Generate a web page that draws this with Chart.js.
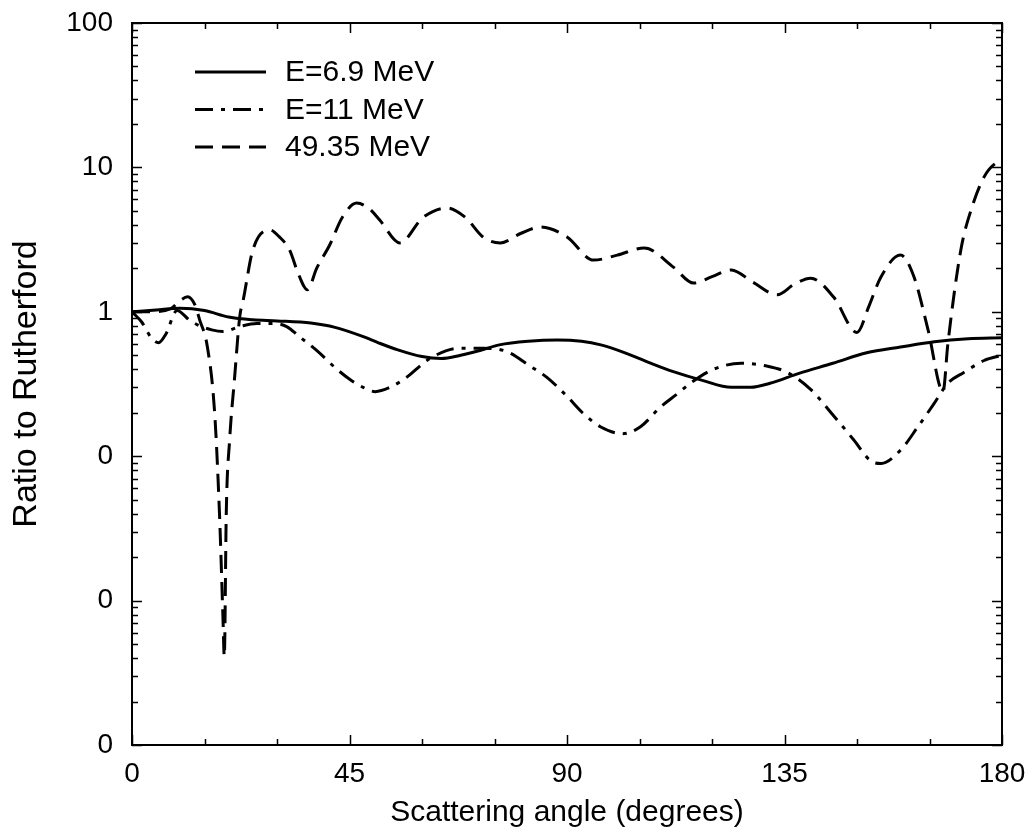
<!DOCTYPE html>
<html>
<head>
<meta charset="utf-8">
<script src="https://cdn.jsdelivr.net/npm/chart.js@4"></script>
<style>
  html, body { margin: 0; padding: 0; background: #fff; }
  canvas { display: block; }
</style>
</head>
<body>
<canvas id="rutherfordChart" width="1030" height="831"></canvas>
<script>
// Ratio to Rutherford vs scattering angle
const angles69 = [0, 5, 10, 15, 20, 25, 30, 37, 42, 48, 51, 55, 60, 64, 68, 72, 76, 82, 88, 93, 97, 102, 107, 112, 118, 124, 128, 132, 138, 145, 152, 159, 166, 173, 180];
const ratio69 = [1.0, 1.03, 1.06, 1.02, 0.92, 0.88, 0.865, 0.835, 0.78, 0.67, 0.61, 0.545, 0.49, 0.475, 0.50, 0.54, 0.59, 0.625, 0.638, 0.625, 0.59, 0.52, 0.445, 0.385, 0.335, 0.30, 0.30, 0.32, 0.375, 0.44, 0.52, 0.57, 0.62, 0.65, 0.66];

const angles11 = [0, 2, 4, 5.5, 7, 9.3, 12, 14, 16.5, 18.8, 22.3, 25.8, 29.1, 32, 34.7, 38.2, 42.4, 45.1, 47.8, 50.3, 53.4, 57.2, 59.9, 62.3, 67.9, 72.6, 77.6, 82.4, 85.9, 90, 93.2, 96.9, 101.5, 105.2, 109.4, 112.8, 115.5, 120.3, 126, 131.5, 135.6, 140.4, 145.2, 149.3, 152.8, 155, 159, 162.6, 165.9, 168.8, 172.1, 176.3, 180];
const ratio11 = [1.0, 0.85, 0.66, 0.61, 0.7, 1.02, 0.87, 0.80, 0.75, 0.73, 0.79, 0.83, 0.83, 0.79, 0.67, 0.54, 0.40, 0.34, 0.30, 0.28, 0.30, 0.36, 0.43, 0.49, 0.56, 0.56, 0.53, 0.42, 0.35, 0.26, 0.20, 0.16, 0.143, 0.16, 0.22, 0.27, 0.32, 0.40, 0.44, 0.42, 0.38, 0.29, 0.19, 0.13, 0.093, 0.089, 0.11, 0.16, 0.23, 0.32, 0.38, 0.46, 0.50];

const angles49 = [0, 4, 8, 10, 11.5, 13, 14, 15.6, 17.1, 18.1, 18.8, 19.1, 19.5, 20.2, 21.2, 22.3, 23, 25, 28.5, 30.5, 32.6, 34.5, 36.3, 38.2, 40.9, 43.5, 46.5, 49, 51.3, 55.4, 60.2, 65.2, 69, 72.6, 76.2, 80.5, 84.5, 90, 95.5, 100.4, 106, 112, 116.2, 120, 124, 128.5, 133.5, 137, 140.4, 145.2, 150, 152.5, 154.9, 159, 161.8, 164.7, 167.8, 168.8, 171.5, 173.6, 176.3, 179.2, 180];
const ratio49 = [1.0, 1.0, 1.05, 1.2, 1.27, 1.12, 0.88, 0.57, 0.2, 0.04, 0.008, 0.0041, 0.04, 0.13, 0.34, 0.93, 1.2, 2.68, 3.68, 3.3, 2.68, 1.8, 1.42, 2.0, 2.9, 4.5, 5.66, 5.2, 4.3, 3.0, 4.5, 5.24, 4.5, 3.3, 3.0, 3.5, 3.86, 3.3, 2.28, 2.47, 2.77, 2.04, 1.58, 1.75, 1.95, 1.6, 1.31, 1.55, 1.71, 1.26, 0.72, 1.1, 1.73, 2.47, 1.74, 0.75, 0.28, 0.6, 2.7, 5.07, 8.6, 11, 11.2];

const seriesLabels = ['E=6.9 MeV', 'E=11 MeV', '49.35 MeV'];
const xTickValues = [0, 45, 90, 135, 180];
const yTickValues = [0.001, 0.01, 0.1, 1, 10, 100];
const yTickLabels = ['0', '0', '0', '1', '10', '100'];

const FONT = "'Liberation Sans', Arial, sans-serif";

function toPoints(xs, ys) {
    return xs.map((x, i) => ({ x: x, y: ys[i] }));
}

// frame with inward ticks on all four sides
const frameTicks = {
    id: 'frameTicks',
    afterDraw(chart) {
        const { ctx, chartArea: a, scales: { x, y } } = chart;
        ctx.save();
        ctx.setLineDash([]);
        ctx.strokeStyle = '#000';
        ctx.lineWidth = 2;
        ctx.strokeRect(a.left, a.top, a.right - a.left, a.bottom - a.top);
        ctx.lineWidth = 1.5;
        ctx.beginPath();
        for (let v = 0; v <= 180; v += 15) {
            const px = Math.round(x.getPixelForValue(v)) + 0.5;
            const len = v % 45 === 0 ? 10 : 6;
            ctx.moveTo(px, a.bottom); ctx.lineTo(px, a.bottom - len);
            ctx.moveTo(px, a.top); ctx.lineTo(px, a.top + len);
        }
        yTickValues.forEach((dec, i) => {
            const mults = i < yTickValues.length - 1 ? [1, 2, 3, 4, 5, 6, 7, 8, 9] : [1];
            mults.forEach(m => {
                const py = Math.round(y.getPixelForValue(dec * m)) + 0.5;
                const len = m === 1 ? 10 : 6;
                ctx.moveTo(a.left, py); ctx.lineTo(a.left + len, py);
                ctx.moveTo(a.right, py); ctx.lineTo(a.right - len, py);
            });
        });
        ctx.stroke();
        ctx.restore();
    }
};

// legend inside the plot, top-left
const insideLegend = {
    id: 'insideLegend',
    afterDraw(chart) {
        const { ctx, chartArea: a } = chart;
        ctx.save();
        ctx.font = '30px ' + FONT;
        ctx.fillStyle = '#000';
        ctx.textBaseline = 'middle';
        chart.data.datasets.forEach((ds, i) => {
            const yy = a.top + 49 + i * 37.5;
            ctx.strokeStyle = '#000';
            ctx.lineWidth = ds.borderWidth;
            ctx.setLineDash(ds.borderDash || []);
            ctx.beginPath();
            ctx.moveTo(a.left + 63, yy);
            ctx.lineTo(a.left + 134, yy);
            ctx.stroke();
            ctx.fillText(ds.label, a.left + 153, yy + 1);
        });
        ctx.restore();
    }
};

const lineStyles = [[], [18, 8, 4, 8], [18, 9]];
const seriesData = [toPoints(angles69, ratio69), toPoints(angles11, ratio11), toPoints(angles49, ratio49)];

new Chart(document.getElementById('rutherfordChart').getContext('2d'), {
    type: 'line',
    data: {
        datasets: seriesLabels.map((label, i) => ({
            label: label,
            data: seriesData[i],
            borderColor: '#000',
            borderWidth: 3,
            borderDash: lineStyles[i],
            pointRadius: 0,
            fill: false,
            cubicInterpolationMode: 'monotone'
        }))
    },
    options: {
        responsive: false,
        animation: false,
        devicePixelRatio: 1,
        layout: { padding: { top: 23, right: 28, left: 0, bottom: 0 } },
        plugins: { legend: { display: false }, tooltip: { enabled: false } },
        scales: {
            x: {
                type: 'linear',
                min: 0,
                max: 180,
                grid: { display: false, drawTicks: false },
                border: { display: false },
                afterBuildTicks: s => { s.ticks = xTickValues.map(v => ({ value: v })); },
                ticks: { color: '#000', font: { family: FONT, size: 28 }, padding: 12, autoSkip: false, maxRotation: 0 },
                title: { display: true, text: 'Scattering angle (degrees)', color: '#000', font: { family: FONT, size: 30 }, padding: { top: 0, bottom: 0 } },
                afterFit: s => { s.height = 86; s.paddingLeft = 0; s.paddingRight = 0; }
            },
            y: {
                type: 'logarithmic',
                min: 0.001,
                max: 100,
                grid: { display: false, drawTicks: false },
                border: { display: false },
                afterBuildTicks: s => { s.ticks = yTickValues.map(v => ({ value: v })); },
                ticks: { color: '#000', font: { family: FONT, size: 28 }, padding: 19, autoSkip: false, callback: (v, i) => yTickLabels[i] },
                title: { display: true, text: 'Ratio to Rutherford', color: '#000', font: { family: FONT, size: 34 }, padding: { top: 6, bottom: 0 } },
                afterFit: s => { s.width = 132; s.paddingTop = 0; s.paddingBottom = 0; }
            }
        }
    },
    plugins: [frameTicks, insideLegend]
});
</script>
</body>
</html>
